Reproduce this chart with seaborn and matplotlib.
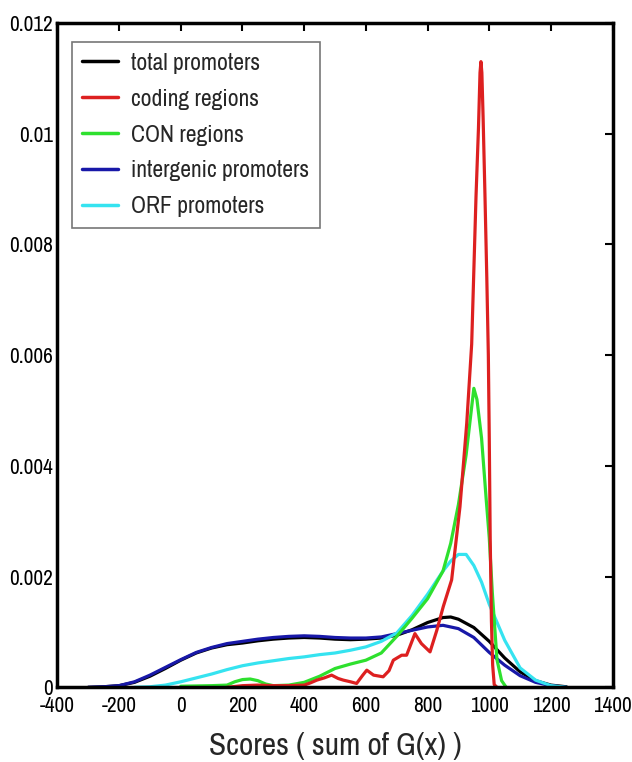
import matplotlib
matplotlib.use("Agg")
import matplotlib.pyplot as plt
import seaborn as sns
import pandas as pd
from matplotlib.lines import Line2D
from matplotlib import font_manager as fm

# ---- data ----
total_x = [-300, -250, -200, -150, -100, -50, 0, 50, 100, 150, 200, 250, 300, 350, 400, 450, 500, 550, 600,
           650, 700, 750, 800, 850, 875, 900, 950, 1000, 1050, 1100, 1150, 1200, 1250]
total_y = [0, 0.00001, 0.00003, 0.00009, 0.0002, 0.00034, 0.00049, 0.00062, 0.00071, 0.00077, 0.0008, 0.00084,
           0.00087, 0.00089, 0.0009, 0.00089, 0.00087, 0.00086, 0.00087, 0.00089, 0.00094, 0.00104, 0.00117,
           0.00126, 0.00127, 0.00123, 0.00108, 0.00083, 0.00053, 0.00028, 0.00012, 0.00004, 0.00001]

inter_x = [-300, -250, -200, -150, -100, -50, 0, 50, 100, 150, 200, 250, 300, 350, 400, 450, 500, 550, 600,
           650, 700, 750, 800, 850, 900, 950, 1000, 1050, 1100, 1150, 1200, 1250]
inter_y = [0, 0.00001, 0.00003, 0.0001, 0.00022, 0.00036, 0.0005, 0.00063, 0.00072, 0.00079, 0.00083, 0.00087,
           0.0009, 0.00092, 0.00093, 0.00092, 0.0009, 0.00089, 0.00089, 0.00091, 0.00097, 0.00103, 0.00109,
           0.00112, 0.00106, 0.0009, 0.00063, 0.0004, 0.00021, 0.00009, 0.00003, 0]

orf_x = [-150, -100, -50, 0, 50, 100, 150, 200, 250, 300, 350, 400, 450, 500, 550, 600, 650, 700, 750, 800,
         850, 875, 900, 925, 950, 975, 1000, 1050, 1100, 1150, 1200, 1250]
orf_y = [0, 0.00001, 0.00004, 0.0001, 0.00017, 0.00024, 0.00032, 0.00039, 0.00044, 0.00048, 0.00052, 0.00055,
         0.00059, 0.00062, 0.00067, 0.00073, 0.00083, 0.00098, 0.0013, 0.00168, 0.0021, 0.00228, 0.0024, 0.0024,
         0.0022, 0.0019, 0.0015, 0.00085, 0.00035, 0.00013, 0.00003, 0]

con_x = [0, 100, 150, 175, 200, 225, 250, 275, 300, 350, 400, 450, 500, 550, 600, 650, 700, 750, 800, 850,
         875, 900, 925, 950, 960, 975, 990, 1000, 1010, 1025, 1040, 1055]
con_y = [0.00002, 0.00003, 0.00004, 0.0001, 0.00014, 0.00015, 0.00012, 0.00006, 0.00003, 0.00004, 0.00009,
         0.0002, 0.00034, 0.00042, 0.00049, 0.00062, 0.00092, 0.00125, 0.0016, 0.0021, 0.0026, 0.0033, 0.0042,
         0.0054, 0.0052, 0.0045, 0.0034, 0.0027, 0.0017, 0.0005, 0.00012, 0]

cod_x = [150, 200, 250, 300, 350, 400, 420, 441, 465, 489, 510, 527, 550, 570, 590, 603, 625, 656, 675, 689,
         716, 732, 759, 780, 808, 830, 851, 878, 905, 927, 943, 957, 965, 970, 973, 976, 980, 986, 992, 997,
         1000, 1003, 1007, 1011, 1016, 1025]
cod_y = [0, 0.00003, 0.00004, 0.00003, 0.00003, 0.00004, 0.00008, 0.00013, 0.00017, 0.00022, 0.00016, 0.00013,
         0.0001, 0.00007, 0.00022, 0.00031, 0.00022, 0.00019, 0.0003, 0.00049, 0.00058, 0.00058, 0.00097,
         0.00079, 0.00064, 0.00103, 0.00146, 0.00194, 0.00326, 0.00477, 0.0062, 0.00886, 0.0101, 0.0111, 0.0113,
         0.0111, 0.0103, 0.0089, 0.0074, 0.006, 0.0045, 0.0027, 0.0012, 0.0004, 0.00005, 0]

labels = ["total promoters", "coding regions", "CON regions", "intergenic promoters", "ORF promoters"]
colors = ["#000000", "#dd2020", "#2ee02e", "#1818a8", "#35e3f0"]

x_ticks = [-400, -200, 0, 200, 400, 600, 800, 1000, 1200, 1400]
y_ticks = [0, 0.002, 0.004, 0.006, 0.008, 0.01, 0.012]
y_tick_labels = ["0", "0.002", "0.004", "0.006", "0.008", "0.01", "0.012"]

# ---- fonts: prefer a condensed sans, else Roboto ----
sns.set_style("white")
narrow = None
for f in fm.fontManager.ttflist:
    if "Narrow" in f.name or "Condensed" in f.name:
        narrow = f.name
        break
families = ([narrow] if narrow else []) + ["Roboto", "Liberation Sans", "DejaVu Sans"]
plt.rcParams["font.family"] = families

fig = plt.figure(figsize=(6.32, 7.62), dpi=100)
ax = fig.add_axes([0.0908, 0.098, 0.8786, 0.872])

series = {
    "total promoters": (total_x, total_y),
    "coding regions": (cod_x, cod_y),
    "CON regions": (con_x, con_y),
    "intergenic promoters": (inter_x, inter_y),
    "ORF promoters": (orf_x, orf_y),
}
color_map = dict(zip(labels, colors))
draw_order = ["total promoters", "intergenic promoters", "ORF promoters", "CON regions", "coding regions"]
for name in draw_order:
    xs, ys = series[name]
    df = pd.DataFrame({"x": xs, "y": ys})
    sns.lineplot(data=df, x="x", y="y", ax=ax, color=color_map[name], linewidth=2.3,
                 sort=False, estimator=None, legend=False)

ax.set_xlim(-400, 1400)
ax.set_ylim(0, 0.012)
ax.set_xticks(x_ticks)
ax.set_xticklabels([str(v) for v in x_ticks])
ax.set_yticks(y_ticks)
ax.set_yticklabels(y_tick_labels)
ax.tick_params(direction="in", length=6, width=1.5, top=True, right=True,
               labelsize=15.3, pad=3, colors="black")
ax.tick_params(axis="x", pad=6)
for s in ax.spines.values():
    s.set_visible(True)
    s.set_linewidth(2.5)
    s.set_color("black")
ax.set_xlabel("Scores ( sum of G(x) )", fontsize=22.5, labelpad=12)
ax.set_ylabel("")

handles = [Line2D([0], [0], color=c, lw=2.5) for c in colors]
leg = ax.legend(handles, labels, loc="upper left", bbox_to_anchor=(0.026, 0.971), borderaxespad=0,
                fontsize=17, frameon=True, fancybox=False, edgecolor="#555555", handlelength=1.5,
                handletextpad=0.55, labelspacing=0.63, borderpad=0.45)
leg.get_frame().set_linewidth(1.2)

fig.savefig("out.png", dpi=100)
